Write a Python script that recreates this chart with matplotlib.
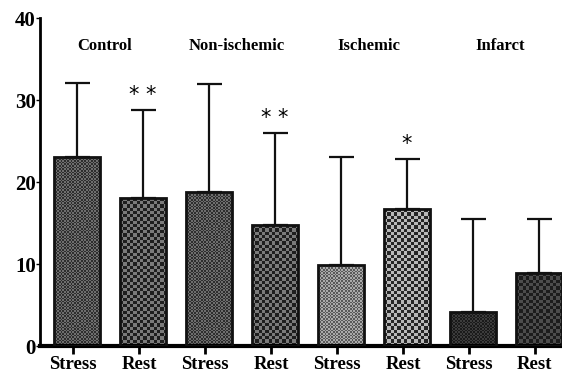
import numpy as np
import matplotlib
matplotlib.use("Agg")
import matplotlib.pyplot as plt

# values
groups = ["Control", "Non-ischemic", "Ischemic", "Infarct"]
conditions = ["Stress", "Rest"] * 4
means = [23.0, 18.0, 18.8, 14.7, 9.9, 16.7, 4.1, 8.9]
upper_err = [9.1, 10.8, 13.1, 11.3, 13.1, 6.1, 11.4, 6.6]
stars = ["", "* *", "", "* *", "", "*", "", ""]

# checker colours (dark, light) and cell size in pixels for each bar
checker_cols = [("#2e2e2e", "#6e6e6e"), ("#1e1e1e", "#7a7a7a"),
                ("#2e2e2e", "#6e6e6e"), ("#1e1e1e", "#7a7a7a"),
                ("#5a5a5a", "#ababab"), ("#262626", "#b8b8b8"),
                ("#1a1a1a", "#3c3c3c"), ("#1c1c1c", "#4c4c4c")]
checker_px = [1.6, 3.2, 1.6, 3.2, 1.6, 3.2, 1.6, 3.2]

plt.rcParams['font.family'] = ['Liberation Serif', 'DejaVu Serif']
plt.rcParams['font.weight'] = 'bold'

fig = plt.figure(figsize=(5.62, 3.74), dpi=100)
ax = fig.add_axes([40 / 562, 1 - 346 / 374, 1 - 40 / 562, (346 - 18) / 374])

x = np.arange(len(means))
xb = x + 0.06  # bars sit a touch right of the ticks in the original
width = 0.70
bars = ax.bar(xb, means, width=width, facecolor="none", edgecolor="#111111",
              linewidth=2.0, zorder=3)
ax.errorbar(xb, means, yerr=[np.zeros(len(means)), upper_err], fmt="none",
            ecolor="#111111", elinewidth=1.6, capsize=9, capthick=1.6, zorder=2)

# checkerboard fills clipped to each bar
px_x = 66.0  # pixels per x unit
px_y = 8.2   # pixels per y unit
for i, b in enumerate(bars):
    x0, w, h = b.get_x(), b.get_width(), b.get_height()
    nx = max(int(w * px_x / checker_px[i]), 1)
    ny = max(int(h * px_y / checker_px[i]), 1)
    board = (np.add.outer(np.arange(ny), np.arange(nx)) % 2).astype(float)
    cmap = matplotlib.colors.ListedColormap(list(checker_cols[i]))
    im = ax.imshow(board, cmap=cmap, extent=(x0, x0 + w, 0, h),
                   interpolation="nearest", aspect="auto", zorder=1)
    im.set_clip_path(b)

ax.set_xlim(-0.5, 7.41)
ax.set_ylim(0, 40)

for i, s in enumerate(stars):
    if s:
        ax.text(xb[i], means[i] + upper_err[i] + 0.6, s, ha="center", va="bottom",
                fontsize=15, fontweight="normal", family="DejaVu Sans")

for g, name in enumerate(groups):
    ax.text(2 * g + 0.48, 36.6, name, ha="center", va="center", fontsize=12,
            fontweight="bold")

ax.set_xticks(x)
ax.set_xticklabels(conditions, fontsize=13.5, fontweight="bold")
ax.set_yticks([0, 10, 20, 30, 40])
ax.set_yticklabels(["0", "10", "20", "30", "40"], fontsize=15, fontweight="bold")

ax.spines["top"].set_visible(False)
ax.spines["right"].set_visible(False)
ax.spines["left"].set_linewidth(2.0)
ax.spines["bottom"].set_linewidth(3.0)
ax.tick_params(axis="x", length=6, width=2, pad=1, direction="out")
ax.tick_params(axis="y", length=3, width=1, pad=0)

fig.savefig("out.png", dpi=100)
